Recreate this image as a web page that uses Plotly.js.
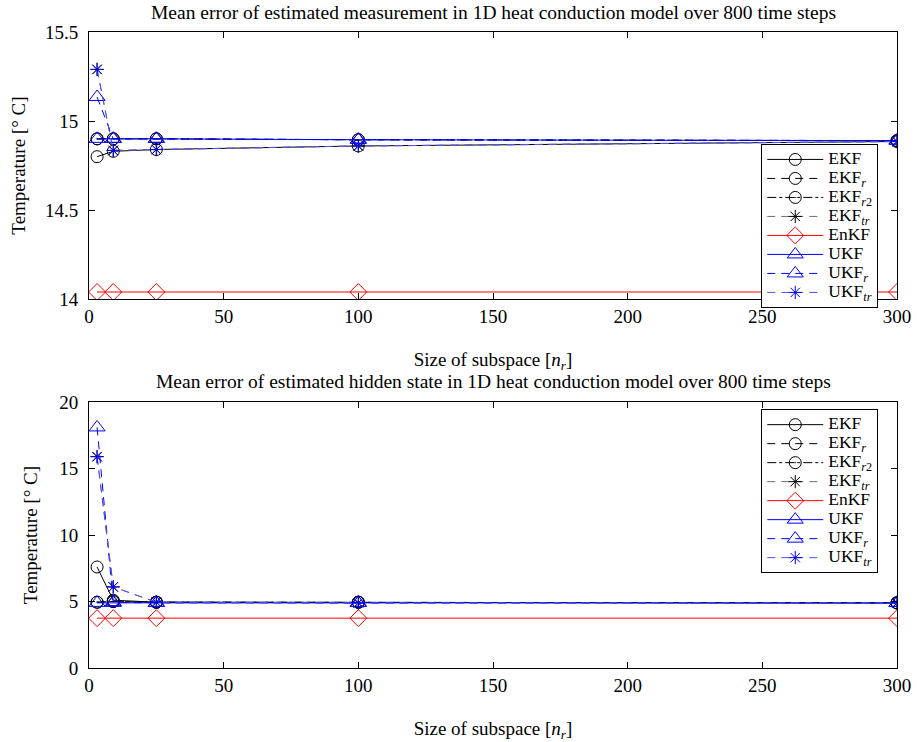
<!DOCTYPE html>
<html>
<head>
<meta charset="utf-8">
<script src="https://cdn.plot.ly/plotly-3.0.1.min.js"></script>
<style>html,body{margin:0;padding:0;background:#fff;}#chart{width:917px;height:742px;}</style>
</head>
<body>
<div id="chart"></div>
<script>
// Subspace sizes
const subspace = [3, 9, 25, 100, 300];
const xTicks = [0, 50, 100, 150, 200, 250, 300];

// Top: mean error of estimated measurement
const measEKF    = [14.80, 14.83, 14.84, 14.86, 14.885];
const measEKFr   = [14.90, 14.90, 14.90, 14.895, 14.89];
const measEKFr2  = [14.90, 14.90, 14.90, 14.895, 14.89];
const measEKFtr  = [15.29, 14.835, 14.84, 14.86, 14.885];
const measEnKF   = [14.04, 14.04, 14.04, 14.04, 14.04];
const measUKF    = [14.90, 14.90, 14.90, 14.895, 14.89];
const measUKFr   = [15.135, 14.90, 14.90, 14.895, 14.89];
const measUKFtr  = [15.29, 14.835, 14.84, 14.86, 14.885];

// Bottom: mean error of estimated hidden state
const hidEKF    = [7.6, 5.1, 4.95, 4.95, 4.9];
const hidEKFr   = [4.95, 5.0, 4.95, 4.95, 4.9];
const hidEKFr2  = [4.95, 5.0, 4.95, 4.95, 4.9];
const hidEKFtr  = [15.9, 6.1, 4.95, 4.9, 4.9];
const hidEnKF   = [3.75, 3.75, 3.75, 3.75, 3.75];
const hidUKF    = [4.9, 4.9, 4.9, 4.9, 4.9];
const hidUKFr   = [18.1, 4.95, 4.9, 4.9, 4.9];
const hidUKFtr  = [15.9, 6.1, 4.95, 4.9, 4.9];

const names = ['EKF', 'EKF<sub><i>r</i></sub>', 'EKF<sub><i>r</i>2</sub>', 'EKF<sub><i>tr</i></sub>',
               'EnKF', 'UKF', 'UKF<sub><i>r</i></sub>', 'UKF<sub><i>tr</i></sub>'];

const styles = [
  {color: 'black', dash: 'solid', symbol: 'circle-open', size: 12},
  {color: 'black', dash: '8px,6px', symbol: 'circle-open', size: 12},
  {color: 'black', dash: 'dashdot', symbol: 'circle-open-dot', size: 12},
  {color: 'rgb(110,110,110)', dash: '8px,6px', symbol: 'asterisk-open', size: 11, mcolor: 'black'},
  {color: 'red', dash: 'solid', symbol: 'diamond-open', size: 13},
  {color: 'blue', dash: 'solid', symbol: 'triangle-up-open', size: 14},
  {color: 'blue', dash: '8px,6px', symbol: 'triangle-up-open', size: 14},
  {color: 'rgb(80,80,255)', dash: '8px,6px', symbol: 'asterisk-open', size: 11, mcolor: 'blue'}
];

const topSeries = [measEKF, measEKFr, measEKFr2, measEKFtr, measEnKF, measUKF, measUKFr, measUKFtr];
const botSeries = [hidEKF, hidEKFr, hidEKFr2, hidEKFtr, hidEnKF, hidUKF, hidUKFr, hidUKFtr];

const FAM = 'Liberation Serif, DejaVu Serif, serif';
const data = [];
function addSeries(series, xa, ya, leg) {
  series.forEach((vals, i) => {
    const s = styles[i];
    data.push({
      x: subspace, y: vals, xaxis: xa, yaxis: ya, legend: leg,
      name: '<span style="font-size:17.5px">' + names[i] + '</span>',
      type: 'scatter', mode: 'lines+markers',
      line: {color: s.color, dash: s.dash, width: 1},
      marker: {symbol: s.symbol, size: s.size, color: s.mcolor || s.color,
               line: {color: s.mcolor || s.color, width: 1}}
    });
  });
}
addSeries(topSeries, 'x', 'y', 'legend');
addSeries(botSeries, 'x2', 'y2', 'legend2');

const font = {family: FAM, size: 19, color: 'black'};
const axisBase = {
  showline: true, linecolor: 'black', linewidth: 1, mirror: 'allticks',
  ticks: 'inside', ticklen: 6, tickcolor: 'black', showgrid: false, zeroline: false,
  tickfont: font
};
const xaxisBase = Object.assign({}, axisBase, {
  range: [0, 300], tickvals: xTicks, ticktext: xTicks.map(String),
  title: {text: 'Size of subspace [<i>n<sub>r</sub></i>]', font: font, standoff: 26}
});

const legendBase = {
  bgcolor: 'white', bordercolor: 'black', borderwidth: 1,
  font: {family: FAM, size: 12, color: 'black'},
  xanchor: 'left', yanchor: 'top', itemwidth: 56, tracegroupgap: 0
};

const layout = {
  width: 917, height: 742,
  margin: {l: 89, r: 20, t: 32, b: 74},
  paper_bgcolor: 'white', plot_bgcolor: 'white',
  font: font, showlegend: true,
  xaxis: Object.assign({}, xaxisBase, {domain: [0, 1], anchor: 'y'}),
  yaxis: Object.assign({}, axisBase, {
    domain: [0.58, 1], anchor: 'x', range: [14, 15.5],
    tickvals: [14, 14.5, 15, 15.5], ticktext: ['14', '14.5', '15', '15.5'],
    ticklabelstandoff: 6,
    title: {text: 'Temperature [° C]', font: font, standoff: 14}
  }),
  xaxis2: Object.assign({}, xaxisBase, {domain: [0, 1], anchor: 'y2'}),
  yaxis2: Object.assign({}, axisBase, {
    domain: [0, 0.418], anchor: 'x2', range: [0, 20],
    tickvals: [0, 5, 10, 15, 20], ticklabelstandoff: 6,
    title: {text: 'Temperature [° C]', font: font, standoff: 16}
  }),
  legend: Object.assign({}, legendBase, {x: 0.832, y: 0.824}),
  legend2: Object.assign({}, legendBase, {x: 0.832, y: 0.407}),
  annotations: [
    {text: 'Mean error of estimated measurement in 1D heat conduction model over 800 time steps',
     xref: 'paper', yref: 'paper', x: 0.5, y: 1, yanchor: 'middle', yshift: 20, showarrow: false,
     font: {family: FAM, size: 19.5, color: 'black'}},
    {text: 'Mean error of estimated hidden state in 1D heat conduction model over 800 time steps',
     xref: 'paper', yref: 'paper', x: 0.5, y: 0.418, yanchor: 'middle', yshift: 21, showarrow: false,
     font: {family: FAM, size: 19.5, color: 'black'}}
  ]
};

Plotly.newPlot('chart', data, layout, {displayModeBar: false, staticPlot: true});
</script>
</body>
</html>
